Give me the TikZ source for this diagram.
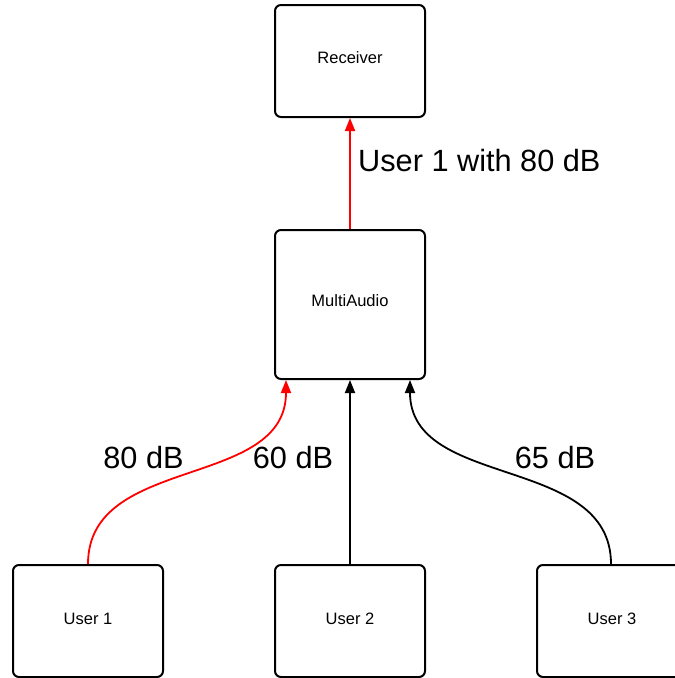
\documentclass[tikz,border=0pt]{standalone}
\usepackage{fontspec}
\setmainfont{Liberation Sans}
\usetikzlibrary{arrows.meta}
\begin{document}
\begin{tikzpicture}[x=1pt,y=-1pt,
  box/.style={draw=black,line width=2pt,rounded corners=6pt,fill=white,
    minimum width=150pt,inner sep=0pt},
  smallbox/.style={box,minimum height=112pt},
  bigbox/.style={box,minimum height=149pt},
  boxtext/.style={font=\fontsize{16.5}{18}\selectfont,inner sep=0pt},
  link/.style={line width=1.8pt,-{Triangle[length=13pt,width=10pt]}},
  lbl/.style={font=\fontsize{30.7}{34}\selectfont,inner sep=0pt}]
\useasboundingbox (0,0) rectangle (675,678);
\clip (0,0) rectangle (675,678);

% boxes
\node[smallbox] (rx) at (350,61) {};
\node[boxtext] (rxt) at (350,58) {Receiver};
\node[bigbox] (mix) at (350,304.5) {};
\node[boxtext] (mixt) at (350,301) {MultiAudio};
\node[smallbox] (u1) at (88,621) {};
\node[boxtext] (u1t) at (88,619) {User 1};
\node[smallbox] (u2) at (350,621) {};
\node[boxtext] (u2t) at (350,619) {User 2};
\node[smallbox] (u3) at (612,621) {};
\node[boxtext] (u3t) at (612,619) {User 3};

% connectors (positive yshift points up the page)
\coordinate (m1) at ([xshift=-64pt]mix.south);
\coordinate (m3) at ([xshift=60pt]mix.south);
\coordinate (s3) at ([xshift=-1pt]u3.north);
\draw[link,red] (mix.north) -- (rx.south);
\draw[link,red] (u1.north) .. controls ([yshift=110pt]u1.north) and ([yshift=-110pt]m1) .. (m1);
\draw[link] (u2.north) -- (mix.south);
\draw[link] (s3) .. controls ([yshift=110pt]s3) and ([yshift=-110pt]m3) .. (m3);

% labels
\node[lbl,anchor=west] (l0) at (358,161) {User 1 with 80 dB};
\node[lbl] (l1) at (143.5,458) {80 dB};
\node[lbl] (l2) at (293,458) {60 dB};
\node[lbl] (l3) at (555,458) {65 dB};
\end{tikzpicture}
\end{document}
